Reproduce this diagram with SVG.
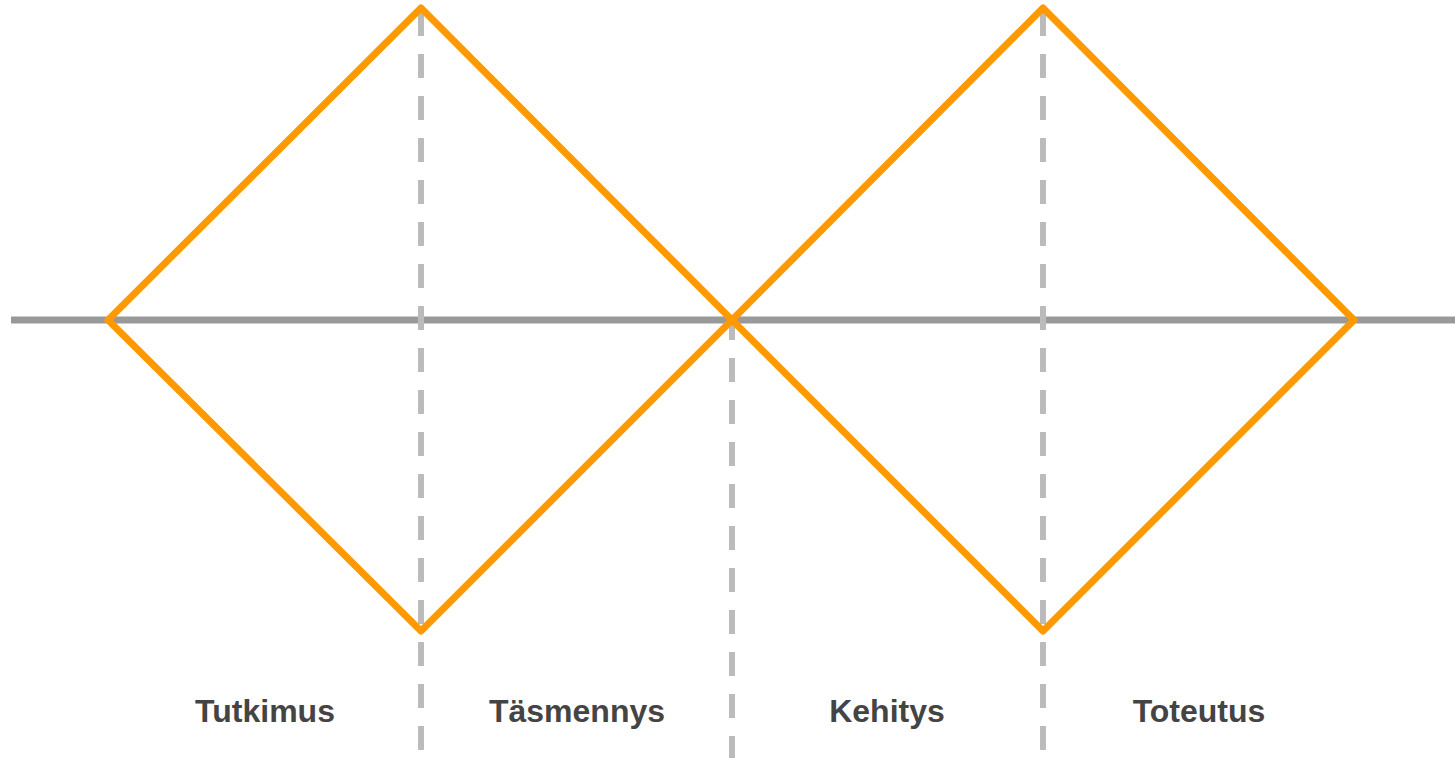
<svg xmlns="http://www.w3.org/2000/svg" width="1455" height="758" viewBox="0 0 1455 758">
  <style>
    .axis { stroke: #999999; stroke-width: 7; fill: none; }
    .dash { stroke: #bbbbbb; stroke-width: 6; stroke-dasharray: 24 18; fill: none; }
    .diamond { stroke: #ff9900; stroke-width: 7; fill: none; stroke-linejoin: round; }
    .label { font-family: "Liberation Sans", Arial, sans-serif; font-weight: bold; font-size: 32px; fill: #444444; text-anchor: middle; }
  </style>
  <rect width="1455" height="758" fill="#ffffff"/>
  <g id="connectors">
    <line class="axis" x1="11" y1="320" x2="1455" y2="320"/>
    <line class="dash" x1="421" y1="12" x2="421" y2="750"/>
    <line class="dash" x1="732" y1="316" x2="732" y2="758"/>
    <line class="dash" x1="1043" y1="12" x2="1043" y2="750"/>
  </g>
  <g id="diamond-1">
    <polygon class="diamond" points="108,320 421,8 732,320 421,631"/>
  </g>
  <g id="diamond-2">
    <polygon class="diamond" points="732,320 1043,8 1354,320 1043,631"/>
  </g>
  <g id="label-tutkimus"><text class="label" x="265" y="722">Tutkimus</text></g>
  <g id="label-tasmennys"><text class="label" x="577" y="722">Täsmennys</text></g>
  <g id="label-kehitys"><text class="label" x="887" y="722">Kehitys</text></g>
  <g id="label-toteutus"><text class="label" x="1199" y="722">Toteutus</text></g>
</svg>
